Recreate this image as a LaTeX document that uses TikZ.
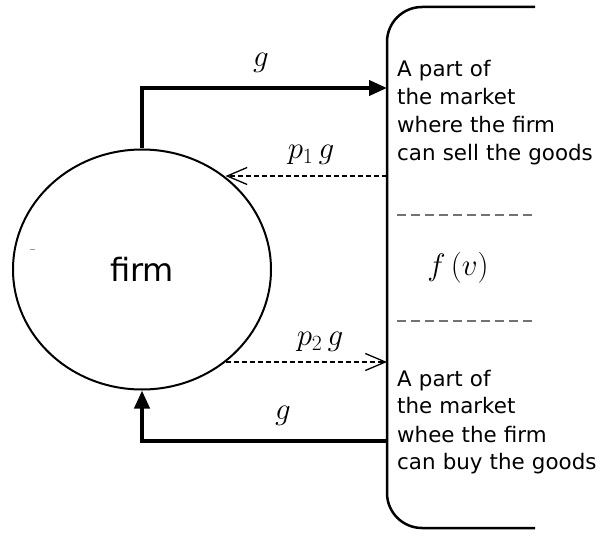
\RequirePackage{fix-cm}
\documentclass[tikz,border=0pt]{standalone}
\usepackage[no-math]{fontspec}
\setmainfont{DejaVu Sans}
\usetikzlibrary{arrows.meta,shapes.geometric}
\begin{document}
\begin{tikzpicture}[x=1pt,y=-1pt,
  firmshape/.style={draw, line width=2pt, ellipse, minimum width=258pt, minimum height=240pt, inner sep=0pt, font=\fontsize{32}{36}\selectfont},
  thickflow/.style={line width=4pt, -{Triangle[length=18pt,width=15pt]}},
  priceflow/.style={line width=1.3pt, dash pattern=on 5pt off 3pt, -{Straight Barb[length=20pt,width=17pt,line width=1.3pt]}},
  divider/.style={black!55, line width=1.3pt, dash pattern=on 9pt off 5pt},
  mtext/.style={font=\fontsize{21.4}{28}\selectfont, text width=240pt, align=left, inner sep=0pt, anchor=base west},
  mlabel/.style={font=\fontsize{31}{33}\selectfont, inner sep=0pt, anchor=base}]
\useasboundingbox (0,0) rectangle (600,537);
% firm
\node[firmshape] (firm) at (142,269.5) {firm};
% market box (open on the right)
\draw[line width=2.5pt, rounded corners=35pt] (535,7) -- (387,7) -- (387,528) -- (535,528);
\coordinate (sellin) at (387,88);
\coordinate (sellout) at (387,176);
\coordinate (buyin) at (387,362);
\coordinate (buyout) at (387,441);
\draw[divider] (397,215) -- (535,215);
\draw[divider] (397,321) -- (535,321);
\node[mtext] (sell) at (397,77) {A part of\\the market\\where the firm\\can sell the goods};
\node[mtext] (buy) at (397,386) {A part of\\the market\\whee the firm\\can buy the goods};
\node[mlabel] (fv) at (458,276) {$f\,(v)$};
% flows
\draw[thickflow] (firm.north) |- (sellin);
\draw[priceflow] (sellout) -- (firm.48 |- sellout);
\draw[priceflow] (firm.-48 |- buyin) -- (buyin);
\draw[thickflow] (buyout) -| (firm.south);
\node[mlabel] (gtop) at (261,67) {$g$};
\node[mlabel] (p1g) at (311,159) {$p_1\,g$};
\node[mlabel] (p2g) at (320,346) {$p_2\,g$};
\node[mlabel] (gbot) at (283,420) {$g$};
% small grey mark inside the circle
\draw[black!40, line width=1pt] (30,250) -- (35,250);
\end{tikzpicture}
\end{document}
